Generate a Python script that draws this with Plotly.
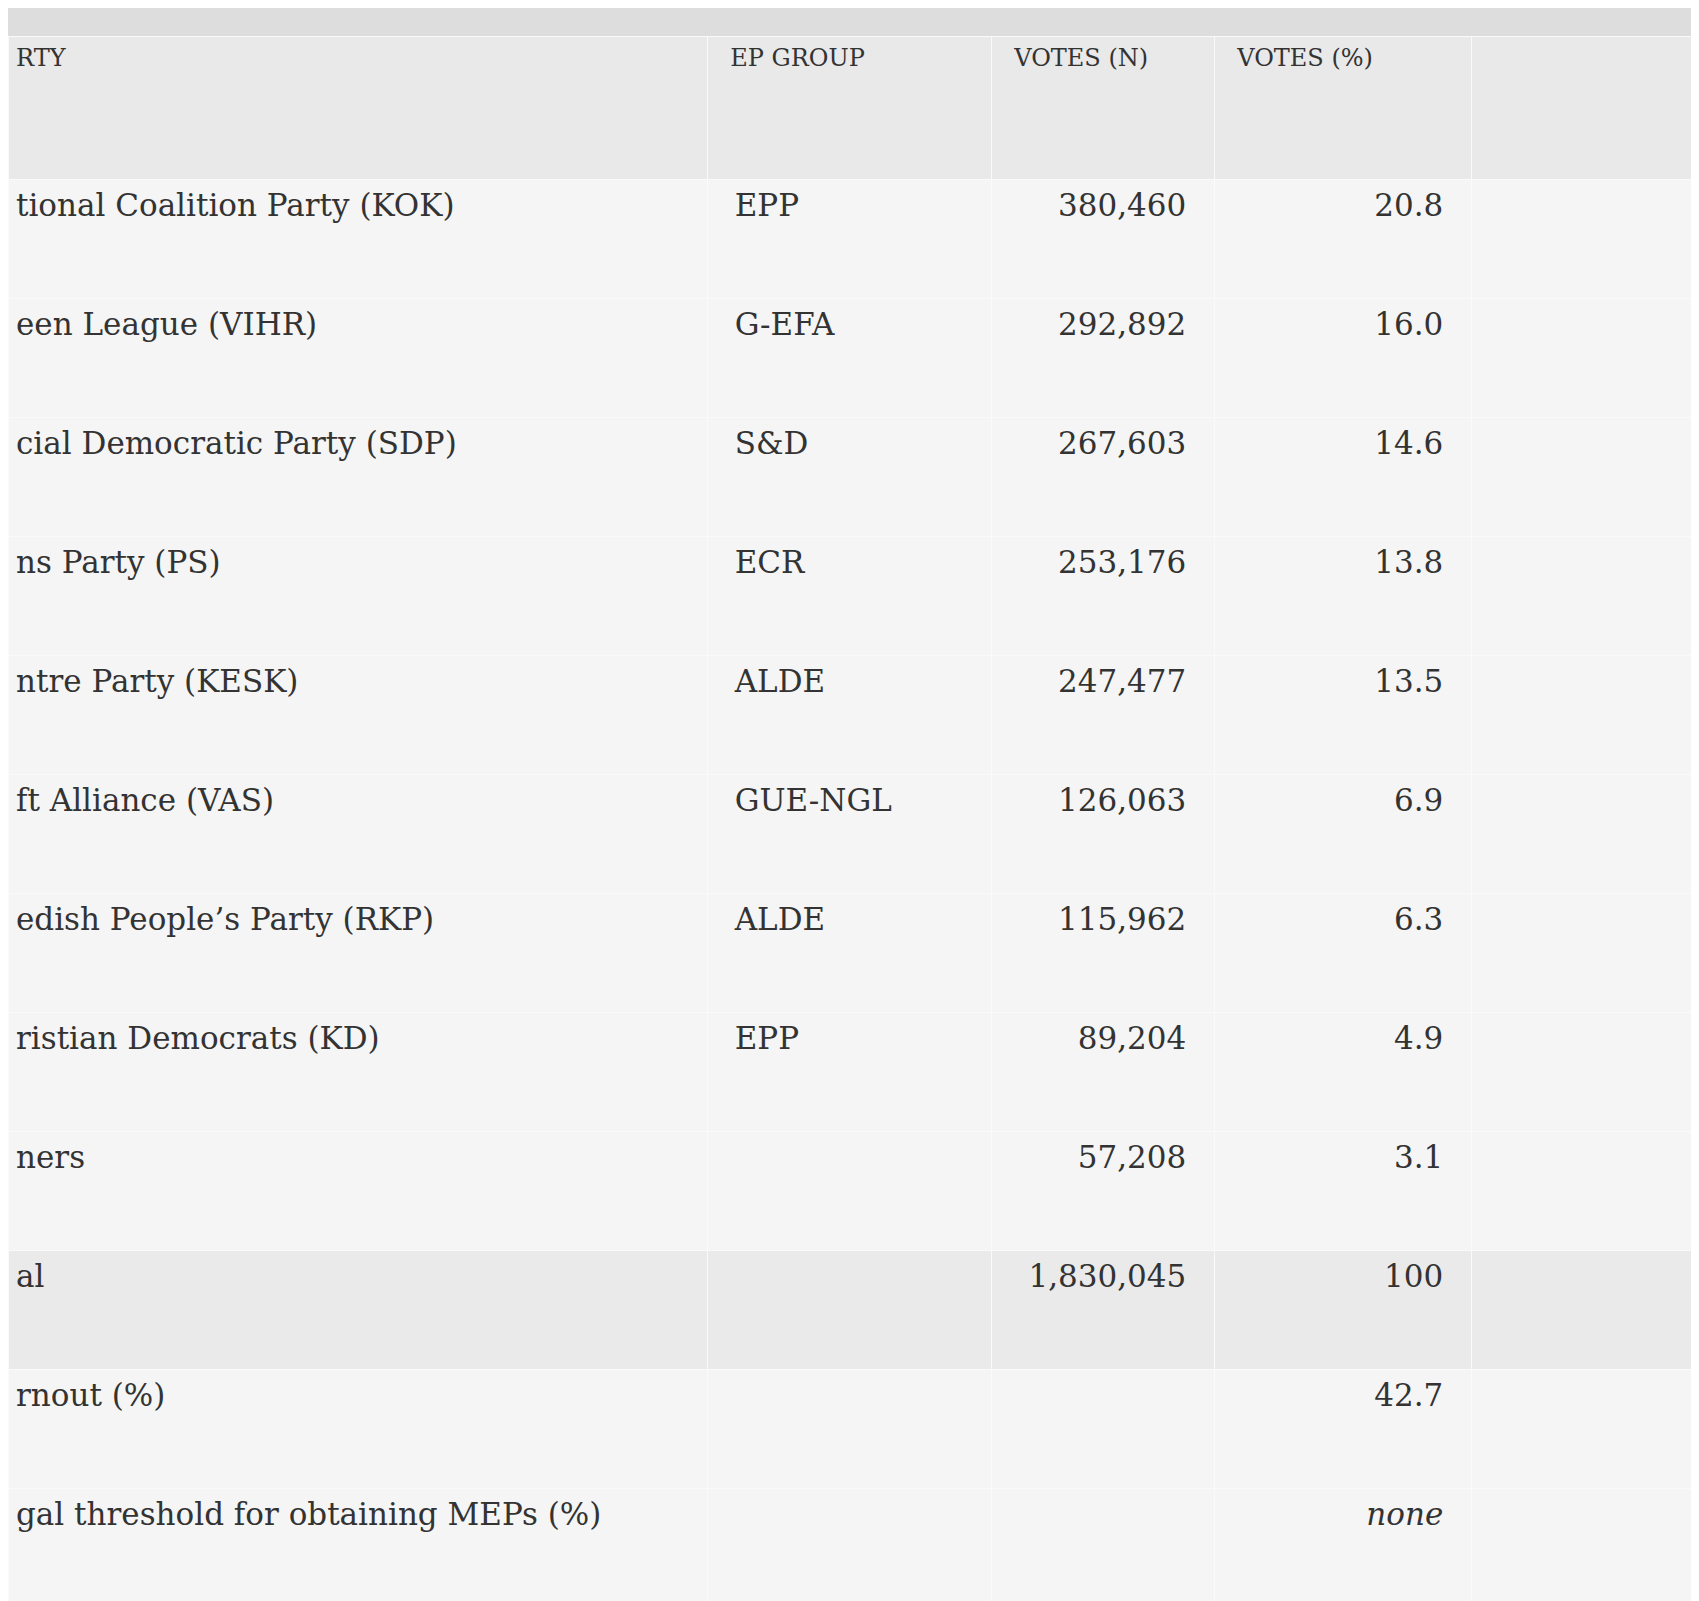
import plotly.graph_objects as go

headers = ["RTY", "EP GROUP", "VOTES (N)", "VOTES (%)", ""]
parties = ["tional Coalition Party (KOK)", "een League (VIHR)", "cial Democratic Party (SDP)",
           "ns Party (PS)", "ntre Party (KESK)", "ft Alliance (VAS)",
           "edish People\u2019s Party (RKP)", "ristian Democrats (KD)", "ners", "al",
           "rnout (%)", "gal threshold for obtaining MEPs (%)"]
groups = ["EPP", "G-EFA", "S&D", "ECR", "ALDE", "GUE-NGL", "ALDE", "EPP", "", "", "", ""]
votes_n = ["380,460", "292,892", "267,603", "253,176", "247,477", "126,063",
           "115,962", "89,204", "57,208", "1,830,045", "", ""]
votes_pct = ["20.8", "16.0", "14.6", "13.8", "13.5", "6.9", "6.3", "4.9", "3.1", "100",
             "42.7", "<i>none</i>"]
blank = [""] * len(parties)

W, H = 1699, 1601
TOP = 28
pad = "\u00a0" * 2
# push text down to the middle of each row
hbr = "<br><br>"
cbr = "<br>"

row_fill = ["#eaeaea" if p == "al" else "#f5f5f5" for p in parties]

fig = go.Figure(go.Table(
    domain=dict(x=[0, 1], y=[0, 1 - TOP / H]),
    columnwidth=[699, 284, 223, 257, 236],
    header=dict(
        values=[hbr + (h if i == 0 else pad + h) for i, h in enumerate(headers)],
        fill_color="#e9e9e9",
        line_color="#fafafa",
        align="left",
        height=143,
        font=dict(family="DejaVu Serif", size=24, color="#333333"),
    ),
    cells=dict(
        values=[[cbr + p for p in parties],
                [cbr + pad + g for g in groups],
                [cbr + v + pad for v in votes_n],
                [cbr + v + pad for v in votes_pct],
                blank],
        fill_color=[row_fill] * 5,
        line_color="#fafafa",
        align=["left", "left", "right", "right", "left"],
        height=119,
        font=dict(family="DejaVu Serif", size=31, color="#333333"),
    ),
))

fig.add_shape(type="rect", xref="paper", yref="paper", x0=0, x1=1, y0=1 - TOP / H, y1=1,
              fillcolor="#dddddd", line_width=0, layer="below")

fig.update_layout(width=W, height=H, margin=dict(l=0, r=0, t=0, b=0),
                  paper_bgcolor="#f5f5f5")

fig.write_html("out.html")
